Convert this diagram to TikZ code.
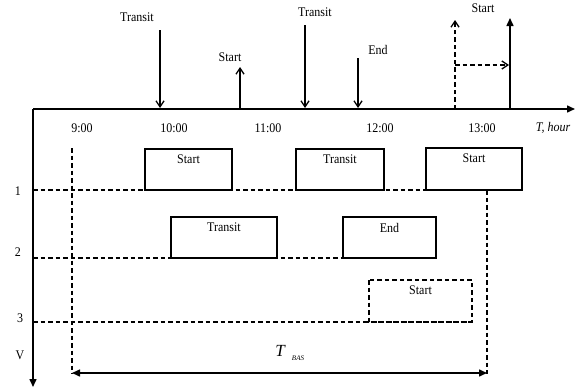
\documentclass[tikz,border=0pt]{standalone}
\usepackage{fontspec}
\setmainfont{Liberation Serif}
\usetikzlibrary{arrows.meta}
\begin{document}
\begin{tikzpicture}[x=1pt,y=-1pt,
  lbl/.style={font=\fontsize{12}{14}\selectfont, inner sep=0pt, yscale=1.1},
  tip/.style={-{Triangle[length=8pt,width=7pt]}},
  axis/.style={line width=1.5pt, tip},
  evt/.style={line width=1.3pt, -{Straight Barb[length=6pt,width=8pt]}},
  grid/.style={line width=1.2pt, dash pattern=on 4.5pt off 3pt},
  job/.style={draw, line width=1.6pt, fill=white},
  jobtxt/.style={lbl, anchor=north}]
\useasboundingbox (0,0) rectangle (579,388);

% axes
\coordinate (o) at (33,109);
\coordinate (tend) at (575,109);
\coordinate (vend) at (33,387);
\draw[axis] (o) -- (tend);
\draw[axis] (o) -- (vend);
\node[lbl, font=\fontsize{12}{14}\selectfont\itshape] (th) at (553,128) {T, hour};

% hour labels
\node[lbl] (h9) at (82,128) {9:00};
\node[lbl] (h10) at (174,128) {10:00};
\node[lbl] (h11) at (268,128) {11:00};
\node[lbl] (h12) at (380,128) {12:00};
\node[lbl] (h13) at (482,128) {13:00};

% row labels
\node[lbl] (r1) at (18,191) {1};
\node[lbl] (r2) at (18,252) {2};
\node[lbl] (r3) at (20,318) {3};
\node[lbl] (rv) at (20,355) {V};

% dashed baselines of the rows
\coordinate (b1s) at (33,190); \coordinate (b1e) at (426,190);
\coordinate (b2s) at (33,258); \coordinate (b2e) at (343,258);
\coordinate (b3s) at (33,322); \coordinate (b3e) at (472,322);
\draw[grid] (b1s) -- (b1e);
\draw[grid] (b2s) -- (b2e);
\draw[grid] (b3s) -- (b3e);

% vertical dashed limits
\coordinate (l1) at (72,148); \coordinate (l2) at (72,374);
\coordinate (m1) at (487,190); \coordinate (m2) at (487,374);
\draw[grid] (l1) -- (l2);
\draw[grid] (m1) -- (m2);

% jobs
\draw[job] (145,149) rectangle (232,190);
\node[jobtxt] (j1) at (188.5,155) {Start};
\draw[job] (296,149) rectangle (384,190);
\node[jobtxt] (j2) at (340,155) {Transit};
\draw[job] (426,148) rectangle (522,190);
\node[jobtxt] (j3) at (474,154) {Start};
\draw[job] (171,217) rectangle (277,258);
\node[jobtxt] (j4) at (224,223) {Transit};
\draw[job] (343,217) rectangle (436,258);
\node[jobtxt] (j5) at (389.5,223) {End};
\draw[grid, line width=1.3pt] (369,280) rectangle (472,322);
\node[jobtxt] (j6) at (420.5,286) {Start};

% events on the time axis
\node[lbl] (e1) at (137,17) {Transit};
\coordinate (e1a) at (160,30); \coordinate (e1b) at (160,108);
\draw[evt] (e1a) -- (e1b);
\node[lbl] (e2) at (230,57) {Start};
\coordinate (e2a) at (240,109); \coordinate (e2b) at (240,67);
\draw[evt] (e2a) -- (e2b);
\node[lbl] (e3) at (315,12) {Transit};
\coordinate (e3a) at (305,25); \coordinate (e3b) at (305,108);
\draw[evt] (e3a) -- (e3b);
\node[lbl] (e4) at (378,50) {End};
\coordinate (e4a) at (358,58); \coordinate (e4b) at (358,108);
\draw[evt] (e4a) -- (e4b);

% postponed start
\coordinate (d1) at (455,109); \coordinate (d2) at (455,20);
\coordinate (d3) at (455,65); \coordinate (d4) at (509,65);
\draw[evt, dash pattern=on 4.5pt off 3pt] (d1) -- (d2);
\draw[evt, dash pattern=on 4.5pt off 3pt] (d3) -- (d4);
\coordinate (s1) at (510,109); \coordinate (s2) at (510,18);
\draw[axis] (s1) -- (s2);
\node[lbl] (e5) at (483,8) {Start};

% overall span
\coordinate (t1) at (72,373); \coordinate (t2) at (487,373);
\draw[line width=1.5pt, {Triangle[length=8pt,width=7pt]}-{Triangle[length=8pt,width=7pt]}] (t1) -- (t2);
\node[inner sep=0pt, font=\fontsize{17}{18}\selectfont\itshape] (tb) at (280,351) {T};
\node[inner sep=0pt, font=\fontsize{7}{8}\selectfont\itshape] (tbs) at (298,358) {BAS};
\end{tikzpicture}
\end{document}
